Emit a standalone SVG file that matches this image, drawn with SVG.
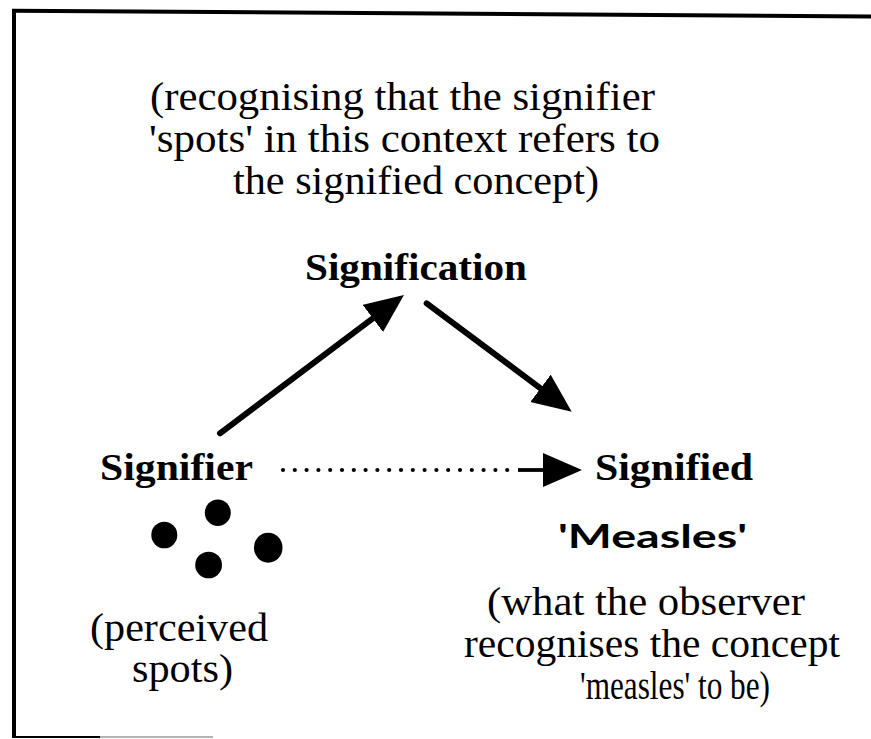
<svg xmlns="http://www.w3.org/2000/svg" width="871" height="739" viewBox="0 0 871 739">
  <defs>
    <style>
      .frame { stroke: #000; fill: none; }
      .txt { font-family: "Liberation Serif", "Times New Roman", serif; font-size: 40px; fill: #000; }
      .lbl { font-family: "Liberation Serif", "Times New Roman", serif; font-size: 38px; font-weight: bold; fill: #000; }
      .term { font-family: Lato, "Open Sans", sans-serif; font-size: 32px; font-weight: bold; fill: #000; }
      .edge { stroke: #000; stroke-width: 6; stroke-linecap: round; fill: none; }
      .dots { stroke: #000; stroke-width: 4.2; stroke-linecap: round; stroke-dasharray: 0 11.8; fill: none; }
      .stem { stroke: #000; stroke-width: 3.8; fill: none; }
      .spot { fill: #000; }
    </style>
    <marker id="head" markerUnits="userSpaceOnUse" markerWidth="41" markerHeight="35" refX="0" refY="17" orient="auto">
      <path d="M0,0 L39,17 L0,34 Z" fill="#000"/>
    </marker>
  </defs>

  <rect width="871" height="739" fill="#fff"/>

  <!-- outer frame (open on the right) -->
  <g id="frame">
    <line class="frame" x1="12" y1="10.7" x2="871" y2="16.5" stroke-width="4"/>
    <line class="frame" x1="14" y1="9" x2="14" y2="738" stroke-width="4"/>
    <line class="frame" x1="12" y1="737" x2="100" y2="737" stroke-width="2"/>
    <line x1="100" y1="737" x2="213" y2="737" stroke="#9a9a9a" stroke-width="1.5"/>
  </g>

  <!-- explanatory note above the triangle -->
  <g id="note-signification">
    <text class="txt" x="150" y="110" textLength="505" lengthAdjust="spacingAndGlyphs">(recognising that the signifier</text>
    <text class="txt" x="149" y="152" textLength="511" lengthAdjust="spacingAndGlyphs">'spots' in this context refers to</text>
    <text class="txt" x="233" y="194" textLength="366" lengthAdjust="spacingAndGlyphs">the signified concept)</text>
  </g>

  <g id="signification">
    <text class="lbl" x="305" y="280" textLength="222" lengthAdjust="spacingAndGlyphs">Signification</text>
  </g>

  <g id="signifier">
    <text class="lbl" x="100" y="480" textLength="153" lengthAdjust="spacingAndGlyphs">Signifier</text>
    <ellipse class="spot" cx="164.3" cy="535" rx="13" ry="13.3"/>
    <ellipse class="spot" cx="217.8" cy="512.7" rx="13" ry="13.3"/>
    <ellipse class="spot" cx="208.6" cy="565" rx="13.4" ry="13.3"/>
    <ellipse class="spot" cx="268.2" cy="547.7" rx="14.3" ry="15"/>
    <text class="txt" x="90" y="641" textLength="178" lengthAdjust="spacingAndGlyphs">(perceived</text>
    <text class="txt" x="132" y="682" textLength="101" lengthAdjust="spacingAndGlyphs">spots)</text>
  </g>

  <g id="signified">
    <text class="lbl" x="595" y="480" textLength="158" lengthAdjust="spacingAndGlyphs">Signified</text>
    <text class="term" x="558" y="548" textLength="189" lengthAdjust="spacingAndGlyphs">'Measles'</text>
    <text class="txt" x="487" y="615" textLength="318" lengthAdjust="spacingAndGlyphs">(what the observer</text>
    <text class="txt" x="464" y="657" textLength="376" lengthAdjust="spacingAndGlyphs">recognises the concept</text>
    <text class="txt" x="580" y="699" textLength="190" lengthAdjust="spacingAndGlyphs">'measles' to be)</text>
  </g>

  <!-- connectors -->
  <g id="connectors">
    <line class="edge" x1="220" y1="433.3" x2="372.8" y2="318.4" marker-end="url(#head)"/>
    <line class="edge" x1="426.7" y1="303.3" x2="540.5" y2="388.3" marker-end="url(#head)"/>
    <line class="dots" x1="283" y1="470" x2="507.2" y2="470"/>
    <line class="stem" x1="518" y1="470" x2="543" y2="470" marker-end="url(#head)"/>
  </g>
</svg>
